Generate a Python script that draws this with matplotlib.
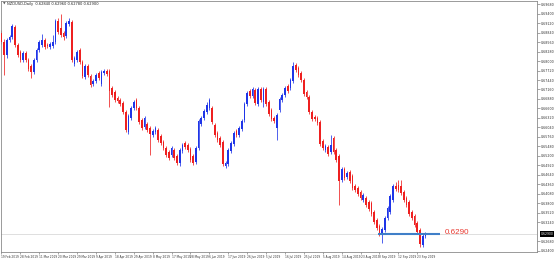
import matplotlib
matplotlib.use("Agg")
import matplotlib.pyplot as plt
from matplotlib.transforms import blended_transform_factory
import numpy as np

# ---------------- data (NZDUSD daily candles) ----------------
opens = [0.6883, 0.6856, 0.6818, 0.6862, 0.6871, 0.6900, 0.6847, 0.6827, 0.6803, 0.6824,
         0.6803, 0.6785, 0.6768, 0.6803, 0.6833, 0.6847, 0.6862, 0.6847, 0.6841, 0.6844,
         0.6856, 0.6918, 0.6897, 0.6883, 0.6874, 0.6909, 0.6915, 0.6791, 0.6803, 0.6833,
         0.6797, 0.6753, 0.6785, 0.6756, 0.6732, 0.6741, 0.6765, 0.6732, 0.6765, 0.6771,
         0.6771, 0.6720, 0.6709, 0.6691, 0.6685, 0.6676, 0.6650, 0.6591, 0.6632, 0.6661,
         0.6685, 0.6661, 0.6626, 0.6605, 0.6614, 0.6602, 0.6582, 0.6591, 0.6597, 0.6579,
         0.6561, 0.6543, 0.6532, 0.6523, 0.6538, 0.6520, 0.6499, 0.6535, 0.6558, 0.6552,
         0.6540, 0.6520, 0.6502, 0.6543, 0.6614, 0.6632, 0.6650, 0.6661, 0.6661, 0.6611,
         0.6588, 0.6573, 0.6561, 0.6490, 0.6496, 0.6535, 0.6555, 0.6594, 0.6582, 0.6600,
         0.6626, 0.6673, 0.6712, 0.6697, 0.6715, 0.6673, 0.6717, 0.6679, 0.6717, 0.6679,
         0.6656, 0.6632, 0.6602, 0.6656, 0.6685, 0.6700, 0.6726, 0.6720, 0.6741, 0.6788,
         0.6779, 0.6765, 0.6744, 0.6709, 0.6694, 0.6650, 0.6635, 0.6632, 0.6620, 0.6564,
         0.6538, 0.6546, 0.6532, 0.6573, 0.6538, 0.6520, 0.6449, 0.6482, 0.6458, 0.6473,
         0.6461, 0.6431, 0.6425, 0.6414, 0.6390, 0.6396, 0.6384, 0.6381, 0.6355, 0.6331,
         0.6313, 0.6293, 0.6302, 0.6337, 0.6355, 0.6390, 0.6431, 0.6434, 0.6431, 0.6414,
         0.6396, 0.6384, 0.6355, 0.6343, 0.6322, 0.6302, 0.6257, 0.6284]
highs = [0.6892, 0.6865, 0.6868, 0.6877, 0.6909, 0.6906, 0.6853, 0.6833, 0.6830, 0.6830,
         0.6809, 0.6791, 0.6809, 0.6838, 0.6862, 0.6880, 0.6868, 0.6853, 0.6856, 0.6877,
         0.6924, 0.6927, 0.6939, 0.6889, 0.6918, 0.6927, 0.6921, 0.6815, 0.6833, 0.6838,
         0.6803, 0.6791, 0.6791, 0.6762, 0.6747, 0.6765, 0.6771, 0.6774, 0.6776, 0.6776,
         0.6776, 0.6726, 0.6715, 0.6697, 0.6691, 0.6682, 0.6656, 0.6644, 0.6667, 0.6685,
         0.6691, 0.6667, 0.6632, 0.6638, 0.6620, 0.6608, 0.6600, 0.6608, 0.6602, 0.6585,
         0.6567, 0.6549, 0.6538, 0.6549, 0.6543, 0.6526, 0.6543, 0.6558, 0.6564, 0.6558,
         0.6546, 0.6526, 0.6549, 0.6629, 0.6638, 0.6659, 0.6679, 0.6691, 0.6667, 0.6617,
         0.6594, 0.6579, 0.6567, 0.6505, 0.6543, 0.6564, 0.6594, 0.6600, 0.6608, 0.6629,
         0.6679, 0.6712, 0.6717, 0.6723, 0.6720, 0.6723, 0.6723, 0.6723, 0.6723, 0.6685,
         0.6661, 0.6638, 0.6647, 0.6694, 0.6706, 0.6726, 0.6732, 0.6750, 0.6797, 0.6794,
         0.6785, 0.6771, 0.6750, 0.6715, 0.6700, 0.6656, 0.6641, 0.6638, 0.6626, 0.6570,
         0.6555, 0.6552, 0.6582, 0.6579, 0.6543, 0.6526, 0.6487, 0.6487, 0.6476, 0.6479,
         0.6467, 0.6437, 0.6431, 0.6420, 0.6411, 0.6402, 0.6390, 0.6387, 0.6361, 0.6337,
         0.6319, 0.6311, 0.6343, 0.6372, 0.6408, 0.6437, 0.6443, 0.6449, 0.6449, 0.6420,
         0.6402, 0.6390, 0.6361, 0.6349, 0.6328, 0.6308, 0.6290, 0.6296]
lows = [0.6850, 0.6759, 0.6809, 0.6856, 0.6865, 0.6841, 0.6812, 0.6797, 0.6797, 0.6797,
        0.6771, 0.6750, 0.6762, 0.6797, 0.6827, 0.6841, 0.6835, 0.6838, 0.6835, 0.6838,
        0.6850, 0.6880, 0.6871, 0.6862, 0.6868, 0.6903, 0.6797, 0.6785, 0.6797, 0.6791,
        0.6750, 0.6747, 0.6753, 0.6723, 0.6726, 0.6735, 0.6744, 0.6726, 0.6759, 0.6756,
        0.6664, 0.6694, 0.6679, 0.6676, 0.6667, 0.6644, 0.6591, 0.6585, 0.6626, 0.6656,
        0.6656, 0.6614, 0.6597, 0.6600, 0.6591, 0.6523, 0.6576, 0.6585, 0.6561, 0.6552,
        0.6538, 0.6517, 0.6508, 0.6517, 0.6508, 0.6493, 0.6490, 0.6529, 0.6540, 0.6532,
        0.6502, 0.6493, 0.6496, 0.6538, 0.6608, 0.6626, 0.6644, 0.6656, 0.6614, 0.6576,
        0.6561, 0.6546, 0.6490, 0.6484, 0.6490, 0.6529, 0.6549, 0.6576, 0.6576, 0.6594,
        0.6620, 0.6667, 0.6691, 0.6691, 0.6670, 0.6667, 0.6679, 0.6664, 0.6667, 0.6638,
        0.6623, 0.6617, 0.6567, 0.6650, 0.6679, 0.6694, 0.6706, 0.6715, 0.6735, 0.6768,
        0.6753, 0.6738, 0.6697, 0.6688, 0.6644, 0.6623, 0.6623, 0.6611, 0.6549, 0.6538,
        0.6532, 0.6520, 0.6526, 0.6526, 0.6502, 0.6375, 0.6443, 0.6449, 0.6452, 0.6440,
        0.6420, 0.6414, 0.6402, 0.6390, 0.6384, 0.6369, 0.6358, 0.6343, 0.6319, 0.6302,
        0.6284, 0.6263, 0.6296, 0.6331, 0.6349, 0.6384, 0.6417, 0.6414, 0.6405, 0.6384,
        0.6369, 0.6343, 0.6331, 0.6311, 0.6290, 0.6252, 0.6252, 0.6278]
closes = [0.6856, 0.6818, 0.6862, 0.6871, 0.6903, 0.6847, 0.6818, 0.6803, 0.6824, 0.6803,
          0.6776, 0.6768, 0.6803, 0.6833, 0.6856, 0.6862, 0.6841, 0.6844, 0.6850, 0.6856,
          0.6918, 0.6886, 0.6877, 0.6871, 0.6912, 0.6918, 0.6803, 0.6809, 0.6827, 0.6797,
          0.6756, 0.6785, 0.6759, 0.6729, 0.6741, 0.6759, 0.6750, 0.6768, 0.6771, 0.6762,
          0.6712, 0.6700, 0.6685, 0.6682, 0.6673, 0.6650, 0.6597, 0.6638, 0.6661, 0.6679,
          0.6661, 0.6620, 0.6602, 0.6632, 0.6597, 0.6585, 0.6594, 0.6602, 0.6567, 0.6558,
          0.6543, 0.6523, 0.6514, 0.6543, 0.6514, 0.6499, 0.6538, 0.6552, 0.6546, 0.6538,
          0.6508, 0.6499, 0.6543, 0.6623, 0.6632, 0.6653, 0.6670, 0.6685, 0.6620, 0.6582,
          0.6567, 0.6552, 0.6496, 0.6499, 0.6538, 0.6558, 0.6588, 0.6582, 0.6602, 0.6623,
          0.6673, 0.6706, 0.6697, 0.6717, 0.6676, 0.6717, 0.6685, 0.6717, 0.6673, 0.6644,
          0.6629, 0.6623, 0.6641, 0.6688, 0.6700, 0.6720, 0.6712, 0.6744, 0.6785, 0.6774,
          0.6759, 0.6744, 0.6703, 0.6694, 0.6650, 0.6629, 0.6629, 0.6617, 0.6555, 0.6543,
          0.6549, 0.6526, 0.6552, 0.6532, 0.6508, 0.6446, 0.6482, 0.6455, 0.6470, 0.6446,
          0.6425, 0.6420, 0.6408, 0.6396, 0.6405, 0.6375, 0.6363, 0.6349, 0.6325, 0.6308,
          0.6293, 0.6305, 0.6337, 0.6366, 0.6402, 0.6431, 0.6422, 0.6420, 0.6411, 0.6390,
          0.6375, 0.6349, 0.6337, 0.6317, 0.6296, 0.6260, 0.6284, 0.6290]

price_ticks = [0.6968, 0.6940, 0.6912, 0.6884, 0.6856, 0.6828, 0.6800, 0.6772, 0.6744,
               0.6716, 0.6688, 0.6660, 0.6632, 0.6604, 0.6576, 0.6548, 0.6520, 0.6492,
               0.6464, 0.6436, 0.6408, 0.6380, 0.6352, 0.6324, 0.6268, 0.6240]
date_tick_bars = [0, 7, 14, 21, 28, 35, 42, 49, 56, 63, 70, 77, 84, 91, 98, 105,
                  112, 119, 126, 133, 140, 147, 154]
date_labels = ["19 Feb 2019", "28 Feb 2019", "11 Mar 2019", "20 Mar 2019", "29 Mar 2019",
               "9 Apr 2019", "18 Apr 2019", "29 Apr 2019", "8 May 2019", "17 May 2019",
               "28 May 2019", "6 Jun 2019", "17 Jun 2019", "26 Jun 2019", "5 Jul 2019",
               "16 Jul 2019", "25 Jul 2019", "5 Aug 2019", "14 Aug 2019", "23 Aug 2019",
               "3 Sep 2019", "12 Sep 2019", "23 Sep 2019"]
level_price = 0.6290
level_text = "0.6290"
level_start_bar = 139.4
level_end_bar = 162.4
last_price_text = "0.62900"
title_text = "NZDUSD,Daily  0.62840 0.62960 0.62780 0.62900"

# ---------------- drawing ----------------
W, H = 554, 260
BULL = "#1f35e8"
BEAR = "#ee2020"

fig = plt.figure(figsize=(W / 100, H / 100), dpi=100)
fig.patch.set_facecolor("white")
ax = fig.add_axes([1 / W, 1 - 252 / H, 536 / W, 251 / H])
ax.set_facecolor("white")

idx = np.arange(len(closes))
o = np.array(opens)
c = np.array(closes)
hi = np.array(highs)
lo = np.array(lows)
colors = [BULL if cc >= oo else BEAR for oo, cc in zip(o, c)]

# faint current-price line across the chart
ax.axhline(level_price, color="#dedede", lw=0.7, zorder=1)

ax.vlines(idx, lo, hi, colors=colors, lw=0.55, zorder=2)
bottoms = np.minimum(o, c)
heights = np.maximum(np.abs(c - o), 0.00009)
ax.bar(idx, heights, bottom=bottoms, width=0.64, color=colors, linewidth=0, zorder=3)

# drawn support level
ax.plot([level_start_bar, level_end_bar], [level_price, level_price],
        color="#3f7fc8", lw=1.5, zorder=4, solid_capstyle="butt")
ax.text(164.3, level_price + 0.00035, level_text, color="#e8382f", fontsize=5.8,
        family="Liberation Sans", va="center", ha="left", zorder=5)

ax.set_xlim(-0.185, -0.185 + 536 / 2.7)
ax.set_ylim(0.62366, 0.697705)

# right price axis
ax.yaxis.tick_right()
ax.set_yticks(price_ticks)
ax.set_yticklabels([f"{v:.5f}" for v in price_ticks])
ax.tick_params(axis="y", length=2, width=0.4, colors="#606060", labelsize=2.3,
               pad=1, labelcolor="#333333")

# date axis
ax.set_xticks(date_tick_bars)
ax.set_xticklabels(date_labels)
ax.tick_params(axis="x", length=1.5, width=0.4, colors="#606060", labelsize=2.1,
               pad=1, labelcolor="#333333")
for lbl in ax.get_xticklabels():
    lbl.set_ha("left")

for sp in ax.spines.values():
    sp.set_color("#8a8a8a")
    sp.set_linewidth(0.6)

# current price box on the price axis
tr = blended_transform_factory(ax.transAxes, ax.transData)
ax.text(1 + 4 / 536, level_price, last_price_text, transform=tr, fontsize=2.2,
        color="white", va="center", ha="left", clip_on=False,
        bbox=dict(boxstyle="square,pad=0.2", fc="black", ec="black", lw=0))

# title line
fig.text(2.5 / W, 1 - 4 / H, "\u25BC", fontsize=2.4, color="#555555", va="center", ha="left")
fig.text(7 / W, 1 - 4 / H, title_text, fontsize=2.6, color="#222222", va="center", ha="left")

fig.savefig("out.png", dpi=100, facecolor="white")
